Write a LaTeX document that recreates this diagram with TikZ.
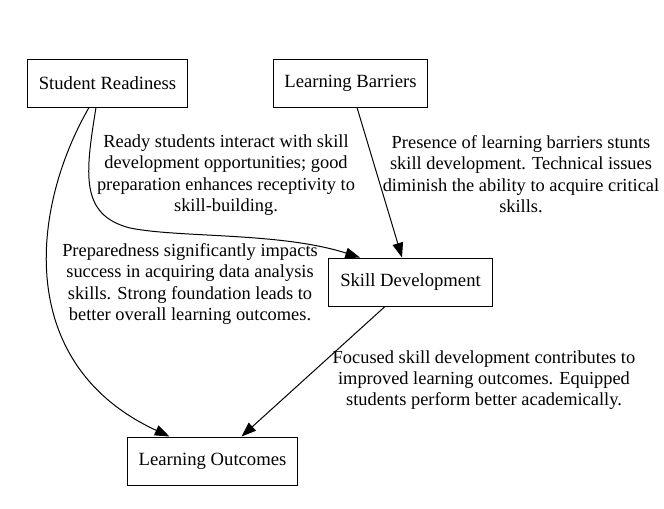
\documentclass[tikz,border=0pt]{standalone}
\usepackage{fontspec}
\setmainfont{Liberation Serif}
\usetikzlibrary{arrows.meta}
\usetikzlibrary{calc}

\begin{document}
\begin{tikzpicture}[x=0.75pt,y=-0.75pt]
   \tikzset{BoxStyle/.style={draw, line width=0.75pt, minimum height=36pt,
      inner xsep=8.5pt, font=\fontsize{14}{16}\selectfont}}
   \tikzset{NoteStyle/.style={align=center, inner sep=0pt,
      font=\fontsize{13.8}{16}\selectfont}}
   \tikzset{EdgeStyle/.style={line width=0.75pt, -{Triangle[length=11pt,width=8pt]}}}
   \useasboundingbox (0,0) rectangle (664,508);
   \node[BoxStyle] (readiness) at (107.5,83) {Student Readiness};
   \node[BoxStyle] (barriers) at (350.5,83) {Learning Barriers};
   \node[BoxStyle] (skills) at (410.5,282) {Skill Development};
   \node[BoxStyle] (outcomes) at (212.5,461) {Learning Outcomes};
   \node[NoteStyle] (readyNote) at (226,175) {Ready students interact with skill\\
      development opportunities; good\\preparation enhances receptivity to\\skill-building.};
   \node[NoteStyle] (barrierNote) at (521,174) {Presence of learning barriers stunts\\
      skill development. Technical issues\\diminish the ability to acquire critical\\skills.};
   \node[NoteStyle] (prepNote) at (190,284) {Preparedness significantly impacts\\
      success in acquiring data analysis\\skills. Strong foundation leads to\\better overall learning outcomes.};
   \node[NoteStyle] (skillNote) at (484,380) {Focused skill development contributes to\\
      improved learning outcomes. Equipped\\students perform better academically.};
   \draw[EdgeStyle] ($(readiness.south)+(-11.5,0)$) .. controls (85,175) and (80,215) .. (130,228)
      .. controls (180,238) and (280,232) .. ($(skills.north)+(-50.5,0)$);
   \draw[EdgeStyle] ($(readiness.south)+(-18.5,0)$) .. controls (30,210) and (15,365) .. ($(outcomes.north)+(-43,0)$);
   \draw[EdgeStyle] ($(barriers.south)+(6.5,0)$) -- ($(skills.north)+(-8.5,0)$);
   \draw[EdgeStyle] ($(skills.south)+(-25.5,0)$) -- ($(outcomes.north)+(29,0)$);
\end{tikzpicture}
\end{document}
